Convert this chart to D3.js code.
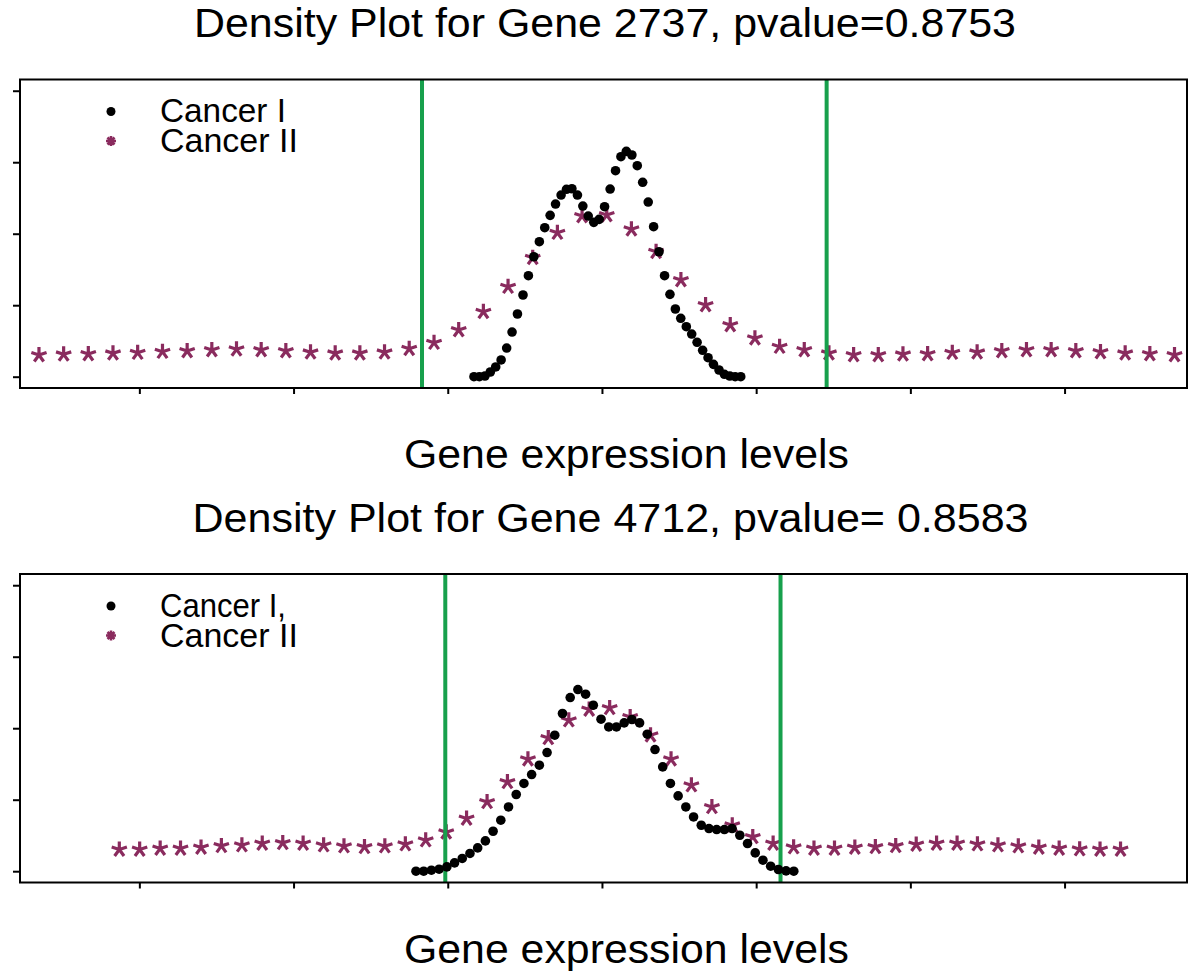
<!DOCTYPE html>
<html>
<head>
<meta charset="utf-8">
<script src="https://cdn.jsdelivr.net/npm/d3@7/dist/d3.min.js"></script>
<style>
  html, body { margin: 0; padding: 0; background: #fff; }
  svg { display: block; }
  text { font-family: "Liberation Sans", Arial, Helvetica, sans-serif; fill: #000; }
</style>
</head>
<body>
<svg id="chart" width="1200" height="976"></svg>
<script>
// ---------------- data ----------------
const xTicks = [-3, -2, -1, 0, 1, 2, 3];
const yTicks = [0, 1, 2, 3, 4];

// Panel 1: Gene 2737
const titleTop = "Density Plot for Gene 2737, pvalue=0.8753";
const legendTop = ["Cancer I", "Cancer II"];
const cancer1X_top = [-0.830,-0.795,-0.759,-0.724,-0.689,-0.654,-0.618,-0.583,-0.548,-0.512,
  -0.477,-0.442,-0.406,-0.371,-0.336,-0.301,-0.265,-0.230,-0.195,-0.159,
  -0.124,-0.089,-0.053,-0.018,0.017,0.053,0.088,0.123,0.158,0.194,
  0.229,0.264,0.300,0.335,0.370,0.406,0.441,0.476,0.511,0.547,
  0.582,0.617,0.653,0.688,0.723,0.759,0.794,0.829,0.864,0.900];
const cancer1Y_top = [0.000,0.000,0.010,0.066,0.136,0.234,0.401,0.625,0.877,1.143,
  1.413,1.678,1.888,2.084,2.257,2.415,2.541,2.621,2.629,2.541,
  2.387,2.247,2.159,2.201,2.378,2.625,2.881,3.077,3.152,3.101,
  2.951,2.719,2.443,2.098,1.748,1.413,1.152,0.947,0.817,0.699,
  0.597,0.481,0.369,0.266,0.173,0.094,0.034,0.010,0.000,0.000];
const cancer2X_top = [-3.651,-3.491,-3.331,-3.171,-3.011,-2.850,-2.690,-2.530,-2.370,-2.210,
  -2.050,-1.890,-1.730,-1.570,-1.410,-1.250,-1.089,-0.929,-0.769,-0.609,
  -0.449,-0.289,-0.129,0.031,0.191,0.351,0.512,0.672,0.832,0.992,
  1.152,1.312,1.472,1.632,1.792,1.952,2.112,2.272,2.433,2.593,
  2.753,2.913,3.073,3.233,3.393,3.553,3.713];
const cancer2Y_top = [0.303,0.313,0.317,0.327,0.336,0.350,0.359,0.373,0.383,0.373,
  0.359,0.341,0.327,0.327,0.341,0.390,
  0.476,0.653,0.909,1.259,1.664,2.014,2.248,2.262,2.062,1.748,1.352,1.003,0.723,0.537,0.420,
  0.373,0.327,0.303,0.303,0.313,0.317,0.336,0.341,0.359,0.373,0.373,0.359,0.345,0.327,0.317,0.303];
const boundsTop = [-1.167, 1.457];

// Panel 2: Gene 4712
const titleBottom = "Density Plot for Gene 4712, pvalue= 0.8583";
const legendBottom = ["Cancer I,", "Cancer II"];
const cancer1X_bot = [-1.206,-1.156,-1.106,-1.056,-1.006,-0.956,-0.906,-0.856,-0.806,-0.756,
  -0.706,-0.656,-0.606,-0.556,-0.506,-0.456,-0.406,-0.356,-0.306,-0.256,
  -0.206,-0.156,-0.106,-0.056,-0.006,0.044,0.094,0.144,0.194,0.244,
  0.294,0.344,0.394,0.444,0.494,0.544,0.594,0.644,0.694,0.744,
  0.794,0.844,0.894,0.944,0.994,1.044,1.094,1.144,1.194,1.244];
const cancer1Y_bot = [0.000,0.000,0.014,0.028,0.060,0.116,0.178,0.248,0.326,0.424,
  0.559,0.713,0.899,1.073,1.227,1.352,1.483,1.660,1.902,2.206,
  2.429,2.541,2.476,2.322,2.126,2.018,2.018,2.074,2.122,2.074,
  1.916,1.702,1.459,1.227,1.053,0.899,0.759,0.643,0.597,0.583,
  0.583,0.597,0.503,0.387,0.256,0.154,0.070,0.024,0.004,0.000];
const cancer2X_bot = [-3.130,-2.998,-2.865,-2.733,-2.600,-2.468,-2.335,-2.203,-2.070,-1.938,
  -1.805,-1.673,-1.540,-1.408,-1.275,-1.143,-1.010,-0.878,-0.745,-0.613,
  -0.480,-0.348,-0.215,-0.083,0.050,0.183,0.315,0.448,0.580,0.713,
  0.845,0.978,1.110,1.243,1.375,1.508,1.640,1.773,1.905,2.038,
  2.170,2.303,2.435,2.568,2.700,2.833,2.965,3.098,3.230,3.363];
const cancer2Y_bot = [0.303,0.303,0.317,0.317,0.331,0.354,0.364,0.387,0.396,0.387,
  0.364,0.350,0.340,0.350,0.378,0.434,0.545,0.737,0.969,1.249,
  1.566,1.864,2.112,2.262,2.284,2.158,1.902,1.566,1.203,0.899,
  0.643,0.480,0.387,0.336,0.317,0.317,0.331,0.340,0.354,0.373,
  0.387,0.387,0.378,0.364,0.350,0.331,0.317,0.308,0.303,0.303];
const boundsBot = [-1.016, 1.158];

const xLabel = "Gene expression levels";

// ---------------- drawing ----------------
const svg = d3.select("#chart");
const STAR_COLOR = "#8a2b5e";
const GREEN = "#17a04c";

const x = d3.scaleLinear().domain([-3.774, 3.794]).range([20, 1187]);

function starPath(r, n) {
  let p = "";
  for (let i = 0; i < n; i++) {
    const a = (-90 + i * 360 / n) * Math.PI / 180;
    p += `M0,0L${(r * Math.cos(a)).toFixed(2)},${(r * Math.sin(a)).toFixed(2)}`;
  }
  return p;
}

function panel(cfg) {
  const g = svg.append("g").attr("transform", `translate(0,${cfg.offset})`);
  const y = d3.scaleLinear().domain([-0.158, 4.157]).range([388, 79.5]);

  // title
  g.append("text")
    .attr("x", cfg.titleX).attr("y", 37)
    .attr("text-anchor", "middle")
    .attr("font-size", 41)
    .attr("textLength", cfg.titleLen)
    .attr("lengthAdjust", "spacingAndGlyphs")
    .text(cfg.title);

  // axes
  g.append("g").attr("transform", "translate(0,388)")
    .call(d3.axisBottom(x).tickValues(xTicks).tickSize(6).tickFormat(""))
    .call(a => a.select(".domain").remove())
    .call(a => a.selectAll("line").attr("stroke", "#000").attr("stroke-width", 2));
  g.append("g").attr("transform", "translate(20,0)")
    .call(d3.axisLeft(y).tickValues(yTicks).tickSize(7).tickFormat(""))
    .call(a => a.select(".domain").remove())
    .call(a => a.selectAll("line").attr("stroke", "#000").attr("stroke-width", 2));

  // stars (Cancer II)
  const starD = starPath(8, 5);
  g.append("g").selectAll("path")
    .data(cfg.c2x.map((v, i) => [v, cfg.c2y[i]]))
    .join("path")
    .attr("transform", d => `translate(${x(d[0])},${y(d[1])})`)
    .attr("d", starD)
    .attr("stroke", STAR_COLOR).attr("stroke-width", 3.2).attr("fill", "none");

  // green boundary lines
  g.append("g").selectAll("line")
    .data(cfg.bounds).join("line")
    .attr("x1", d => x(d)).attr("x2", d => x(d))
    .attr("y1", y.range()[1]).attr("y2", y.range()[0])
    .attr("stroke", GREEN).attr("stroke-width", 4);

  // dots (Cancer I)
  g.append("g").selectAll("circle")
    .data(cfg.c1x.map((v, i) => [v, cfg.c1y[i]]))
    .join("circle")
    .attr("cx", d => x(d[0])).attr("cy", d => y(d[1]))
    .attr("r", 4.8).attr("fill", "#000");

  // frame
  g.append("rect")
    .attr("x", x.range()[0]).attr("y", y.range()[1])
    .attr("width", x.range()[1] - x.range()[0])
    .attr("height", y.range()[0] - y.range()[1])
    .attr("fill", "none").attr("stroke", "#000").attr("stroke-width", 2);

  // legend
  const lg = g.append("g");
  lg.append("circle").attr("cx", 111).attr("cy", 111.5).attr("r", 4.5).attr("fill", "#000");
  lg.append("path").attr("transform", "translate(111,141)")
    .attr("d", starPath(5, 8)).attr("stroke", STAR_COLOR).attr("stroke-width", 2.6);
  lg.append("text").attr("x", 160).attr("y", 122).attr("font-size", 34).attr("textLength", 126)
    .attr("lengthAdjust", "spacingAndGlyphs").text(cfg.legend[0]);
  lg.append("text").attr("x", 160).attr("y", 152).attr("font-size", 34).text(cfg.legend[1]);

  // x label
  g.append("text")
    .attr("x", 626.5).attr("y", 468)
    .attr("text-anchor", "middle")
    .attr("font-size", 41)
    .attr("textLength", 445)
    .attr("lengthAdjust", "spacingAndGlyphs")
    .text(xLabel);
}

panel({ offset: 0, title: titleTop, titleX: 605, titleLen: 822, legend: legendTop,
  c1x: cancer1X_top, c1y: cancer1Y_top, c2x: cancer2X_top, c2y: cancer2Y_top, bounds: boundsTop });
panel({ offset: 494.5, title: titleBottom, titleX: 610.5, titleLen: 836, legend: legendBottom,
  c1x: cancer1X_bot, c1y: cancer1Y_bot, c2x: cancer2X_bot, c2y: cancer2Y_bot, bounds: boundsBot });
</script>
</body>
</html>
